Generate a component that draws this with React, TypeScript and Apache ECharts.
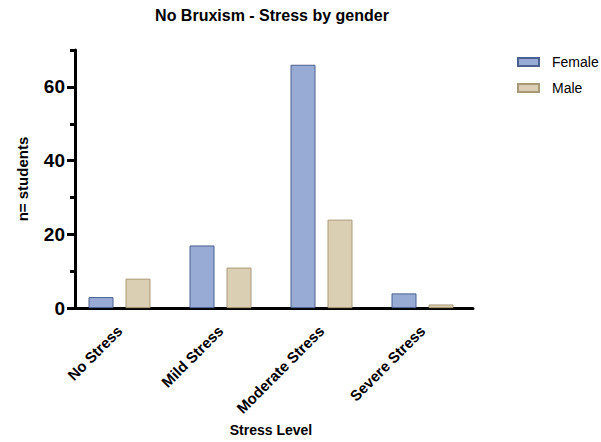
import React, { useEffect, useRef } from "react";
import * as echarts from "echarts";

const categories = ["No Stress", "Mild Stress", "Moderate Stress", "Severe Stress"];
const femaleValues = [3, 17, 66, 4];
const maleValues = [8, 11, 24, 1];
const majorTicks = [0, 20, 40, 60];
const minorTicks = [10, 30, 50, 70];

const FONT = "'Liberation Sans', Arial, sans-serif";

export default function App() {
  const ref = useRef<HTMLDivElement>(null);
  useEffect(() => {
    document.body.style.margin = "0";
    const chart = echarts.init(ref.current!, null, { renderer: "svg" });
    chart.setOption({
      animation: false,
      backgroundColor: "#fff",
      title: {
        text: "No Bruxism - Stress by gender",
        left: 267,
        top: 2,
        textAlign: "center",
        textStyle: { fontFamily: FONT, fontWeight: "bold", fontSize: 16, color: "#000" },
      },
      legend: {
        orient: "vertical",
        left: 512,
        top: 50,
        itemWidth: 21,
        itemHeight: 8,
        itemGap: 12,
        icon: "rect",
        textStyle: { fontFamily: FONT, fontSize: 14, color: "#000", padding: [0, 0, 0, 8] },
        data: ["Female", "Male"],
      },
      grid: { left: 69, top: 50, width: 404, height: 263 },
      xAxis: {
        type: "category",
        data: categories,
        axisLine: { lineStyle: { color: "#000", width: 3 } },
        axisTick: { alignWithLabel: true, length: 8, lineStyle: { color: "#000", width: 3 } },
        axisLabel: {
          rotate: 45,
          margin: 20,
          interval: 0,
          fontFamily: FONT,
          fontWeight: "bold",
          fontSize: 15,
          color: "#000",
        },
        name: "Stress Level",
        nameLocation: "middle",
        nameGap: 114,
        nameTextStyle: { fontFamily: FONT, fontWeight: "bold", fontSize: 14, color: "#000" },
      },
      yAxis: [
        {
          type: "value",
          min: 0,
          max: 70,
          position: "left",
          offset: -6,
          axisLine: { show: true, lineStyle: { color: "#000", width: 3 } },
          axisTick: { show: true, customValues: majorTicks, length: 8, lineStyle: { color: "#000", width: 3 } },
          axisLabel: {
            customValues: majorTicks,
            margin: 10,
            fontFamily: FONT,
            fontWeight: "bold",
            fontSize: 19,
            color: "#000",
          },
          splitLine: { show: false },
          name: "n= students",
          nameLocation: "middle",
          nameGap: 45,
          nameTextStyle: { fontFamily: FONT, fontWeight: "bold", fontSize: 15, color: "#000" },
        },
        {
          type: "value",
          min: 0,
          max: 70,
          position: "left",
          offset: -6,
          axisLine: { show: false },
          axisTick: { show: true, customValues: minorTicks, length: 5, lineStyle: { color: "#000", width: 3 } },
          axisLabel: { show: false },
          splitLine: { show: false },
        },
      ],
      series: [
        {
          name: "Female",
          type: "bar",
          data: femaleValues,
          barWidth: 25,
          barGap: "48%",
          itemStyle: { color: "#97abd4", borderColor: "#4a6090", borderWidth: 1 },
        },
        {
          name: "Male",
          type: "bar",
          data: maleValues,
          barWidth: 25,
          barGap: "48%",
          itemStyle: { color: "#dbcfb3", borderColor: "#a89878", borderWidth: 1 },
        },
      ],
    });
    return () => chart.dispose();
  }, []);
  return <div ref={ref} style={{ width: 601, height: 442 }} />;
}
